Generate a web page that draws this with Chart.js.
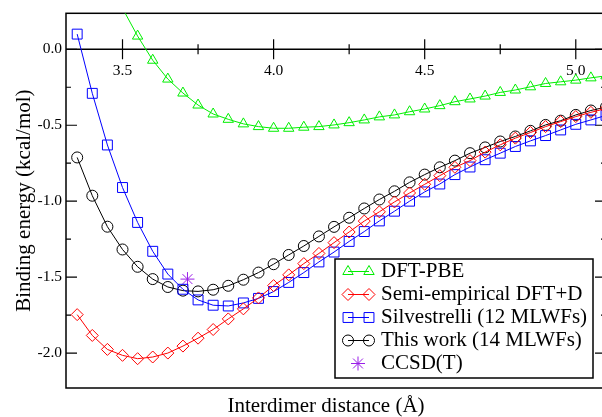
<!DOCTYPE html>
<html>
<head>
<meta charset="utf-8">
<script src="https://cdn.jsdelivr.net/npm/chart.js@4"></script>
<style>
  html, body { margin: 0; padding: 0; background: #fff; overflow: hidden; }
  canvas { display: block; }
</style>
</head>
<body>
<canvas id="bindingChart" width="620" height="417"></canvas>
<script>
// interdimer distances (Å) for the 0.05 Å scans
const distances = [3.35, 3.40, 3.45, 3.50, 3.55, 3.60, 3.65, 3.70, 3.75, 3.80, 3.85, 3.90,
                   3.95, 4.00, 4.05, 4.10, 4.15, 4.20, 4.25, 4.30, 4.35, 4.40, 4.45, 4.50,
                   4.55, 4.60, 4.65, 4.70, 4.75, 4.80, 4.85, 4.90, 4.95, 5.00, 5.05, 5.10];
const pbeDistances = [3.50, 3.55, 3.60, 3.65, 3.70, 3.75, 3.80, 3.85, 3.90, 3.95, 4.00,
                      4.05, 4.10, 4.15, 4.20, 4.25, 4.30, 4.35, 4.40, 4.45, 4.50, 4.55,
                      4.60, 4.65, 4.70, 4.75, 4.80, 4.85, 4.90, 4.95, 5.00, 5.05, 5.10];

// binding energies (kcal/mol)
const pbeEnergy = [0.27, 0.087, -0.072, -0.196, -0.288, -0.367, -0.426, -0.461, -0.491, -0.509, -0.520,
                   -0.520, -0.513, -0.509, -0.498, -0.483, -0.465, -0.445, -0.432, -0.411, -0.393, -0.371,
                   -0.345, -0.327, -0.308, -0.284, -0.268, -0.247, -0.225, -0.214, -0.203, -0.188, -0.175];
const dftdEnergy = [-1.747, -1.884, -1.976, -2.015, -2.037, -2.026, -2.000, -1.954, -1.902, -1.845, -1.775, -1.709,
                    -1.637, -1.556, -1.485, -1.411, -1.344, -1.273, -1.203, -1.131, -1.070, -1.005, -0.946, -0.889,
                    -0.832, -0.777, -0.733, -0.677, -0.629, -0.585, -0.548, -0.509, -0.476, -0.443, -0.415, -0.390];
const silvestrelliEnergy = [0.10, -0.29, -0.63, -0.91, -1.14, -1.33, -1.48, -1.58, -1.65, -1.685, -1.69, -1.67,
                            -1.64, -1.595, -1.535, -1.47, -1.40, -1.335, -1.265, -1.20, -1.13, -1.066, -1.00, -0.939,
                            -0.887, -0.825, -0.775, -0.727, -0.684, -0.640, -0.603, -0.568, -0.531, -0.494, -0.465, -0.435];
const mlwfEnergy = [-0.712, -0.964, -1.168, -1.318, -1.432, -1.513, -1.565, -1.589, -1.594, -1.583, -1.557, -1.517,
                    -1.470, -1.415, -1.354, -1.295, -1.232, -1.169, -1.109, -1.048, -0.989, -0.935, -0.876, -0.825,
                    -0.777, -0.733, -0.684, -0.646, -0.607, -0.574, -0.537, -0.498, -0.470, -0.432, -0.403, -0.380];
const ccsdtDistance = [3.715];
const ccsdtEnergy = [-1.513];

const xMajorTicks = [3.5, 4.0, 4.5, 5.0];
const xMinorTicks = [3.75, 4.25, 4.75];
const yMajorTicks = [-2.0, -1.5, -1.0, -0.5, 0.0];
const yMinorTicks = [-1.75, -1.25, -0.75, -0.25];

const serif = 'Liberation Serif';
const pairs = (xs, ys) => xs.map((x, i) => ({ x: x, y: ys[i] }));

function series(label, xs, ys, color, style, radius) {
  return {
    label: label,
    data: pairs(xs, ys),
    borderColor: color,
    backgroundColor: 'rgba(0,0,0,0)',
    borderWidth: 1,
    pointStyle: style,
    pointRadius: radius,
    pointBorderWidth: 1,
    pointBackgroundColor: 'rgba(0,0,0,0)',
    tension: 0
  };
}

// box, zero line and inward ticks
const axesFrame = {
  id: 'axesFrame',
  beforeDatasetsDraw(chart) {
    const { ctx, chartArea: a, scales: { x, y } } = chart;
    ctx.save();
    ctx.strokeStyle = '#000';
    ctx.lineWidth = 1.5;
    ctx.strokeRect(a.left, a.top, a.right - a.left, a.bottom - a.top);
    const y0 = y.getPixelForValue(0);
    ctx.beginPath();
    ctx.moveTo(a.left, y0); ctx.lineTo(a.right, y0);
    ctx.stroke();
    ctx.lineWidth = 1.2;
    ctx.beginPath();
    xMajorTicks.forEach(v => { const px = x.getPixelForValue(v); ctx.moveTo(px, y0 - 10); ctx.lineTo(px, y0 + 10); });
    xMinorTicks.forEach(v => { const px = x.getPixelForValue(v); ctx.moveTo(px, y0 - 5); ctx.lineTo(px, y0 + 5); });
    yMajorTicks.forEach(v => {
      const py = y.getPixelForValue(v);
      ctx.moveTo(a.left, py); ctx.lineTo(a.left + 11, py);
      ctx.moveTo(a.right, py); ctx.lineTo(a.right - 11, py);
    });
    yMinorTicks.forEach(v => {
      const py = y.getPixelForValue(v);
      ctx.moveTo(a.left, py); ctx.lineTo(a.left + 5, py);
      ctx.moveTo(a.right, py); ctx.lineTo(a.right - 5, py);
    });
    ctx.stroke();
    ctx.restore();
  }
};

// x title and the boxed legend
const annotations = {
  id: 'annotations',
  afterDraw(chart) {
    const { ctx, chartArea: a } = chart;
    ctx.save();
    ctx.fillStyle = '#000';
    ctx.font = '21px "' + serif + '"';
    ctx.textAlign = 'center';
    ctx.textBaseline = 'alphabetic';
    ctx.fillText('Interdimer distance (Å)', a.left + 260, 412);

    const bx = 335, by = 259, bw = 258, bh = 119;
    ctx.fillStyle = '#fff';
    ctx.fillRect(bx, by, bw, bh);
    ctx.strokeStyle = '#000';
    ctx.lineWidth = 1.5;
    ctx.strokeRect(bx, by, bw, bh);

    ctx.textAlign = 'left';
    ctx.textBaseline = 'middle';
    chart.data.datasets.forEach((ds, i) => {
      const ry = 271.5 + i * 23;
      ctx.strokeStyle = ds.borderColor;
      ctx.lineWidth = 1;
      const opts = { pointStyle: ds.pointStyle, radius: ds.pointRadius, rotation: 0, borderWidth: 1 };
      ctx.fillStyle = 'rgba(0,0,0,0)';
      if (ds.showLine === false) {
        Chart.helpers.drawPoint(ctx, opts, 358, ry);
      } else {
        ctx.beginPath();
        ctx.moveTo(348, ry); ctx.lineTo(369, ry);
        ctx.stroke();
        Chart.helpers.drawPoint(ctx, opts, 348, ry);
        Chart.helpers.drawPoint(ctx, opts, 369, ry);
      }
      ctx.fillStyle = '#000';
      ctx.fillText(ds.label, 381, ry);
    });
    ctx.restore();
  }
};

const ccsdt = series('CCSD(T)', ccsdtDistance, ccsdtEnergy, '#9a1ee8', 'star', 7);
ccsdt.showLine = false;

new Chart(document.getElementById('bindingChart').getContext('2d'), {
  type: 'line',
  data: {
    datasets: [
      series('DFT-PBE', pbeDistances, pbeEnergy, '#00ee00', 'triangle', 6),
      series('Semi-empirical DFT+D', distances, dftdEnergy, '#ff0000', 'rectRot', 6),
      series('Silvestrelli (12 MLWFs)', distances, silvestrelliEnergy, '#0000ff', 'rect', 7),
      series('This work (14 MLWFs)', distances, mlwfEnergy, '#000000', 'circle', 5.5),
      ccsdt
    ]
  },
  options: {
    responsive: false,
    animation: false,
    layout: { padding: { left: 8, top: 11, right: 14, bottom: 29 } },
    plugins: { legend: { display: false }, tooltip: { enabled: false } },
    scales: {
      x: {
        type: 'linear',
        position: { y: 0 },
        min: 3.313,
        max: 5.1,
        grid: { display: false, drawTicks: false },
        border: { display: false },
        afterBuildTicks: s => { s.ticks = xMajorTicks.map(v => ({ value: v })); },
        afterFit: s => { s.height = 0; },
        ticks: {
          autoSkip: false, maxRotation: 0, padding: 12, color: '#000',
          font: { family: serif, size: 15.5 },
          callback: v => v.toFixed(1)
        }
      },
      y: {
        min: -2.23,
        max: 0.237,
        grid: { display: false, drawTicks: false },
        border: { display: false },
        afterBuildTicks: s => { s.ticks = yMajorTicks.map(v => ({ value: v })); },
        afterFit: s => { s.width = 58; },
        ticks: {
          padding: 4, color: '#000',
          font: { family: serif, size: 15.5 },
          callback: v => v.toFixed(1)
        },
        title: {
          display: true, text: 'Binding energy (kcal/mol)', color: '#000',
          font: { family: serif, size: 21 }
        }
      }
    }
  },
  plugins: [axesFrame, annotations]
});
</script>
</body>
</html>
